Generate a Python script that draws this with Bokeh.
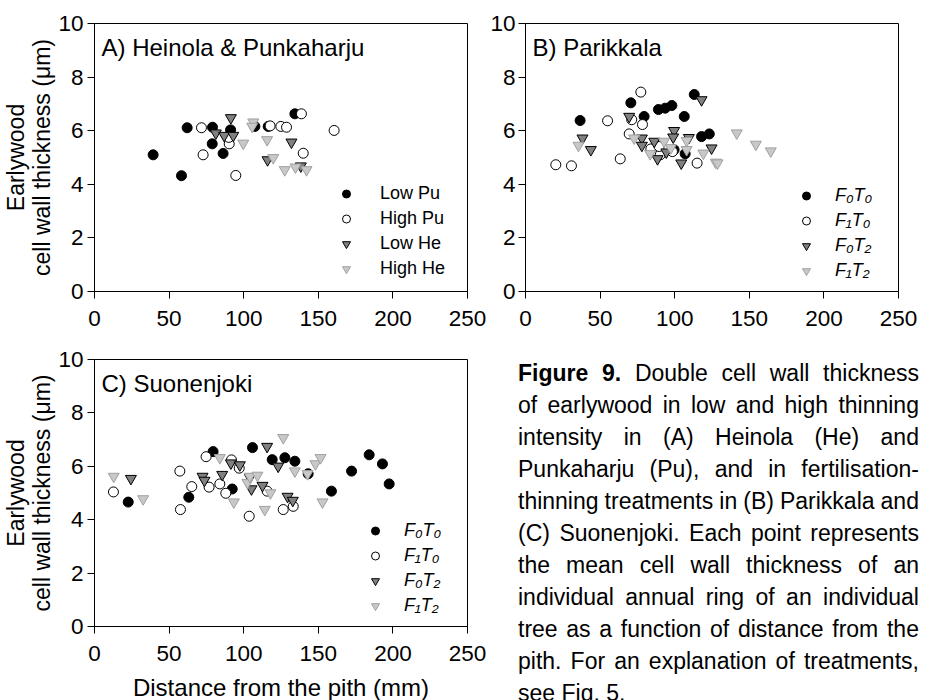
from bokeh.plotting import figure
from bokeh.models import Legend, LegendItem, Label, Div, FixedTicker
from bokeh.layouts import row, column
from bokeh.embed import file_html
from bokeh.resources import INLINE

FONT = "Liberation Sans"

# ---------------- data ----------------
x_ticks = [0, 50, 100, 150, 200, 250]
y_ticks = [0, 2, 4, 6, 8, 10]

# Panel A: Heinola & Punkaharju
a_low_pu_x = [39.3, 58.3, 62.1, 79.1, 78.9, 86.2, 91.2, 107.5, 116.4, 134.3]
a_low_pu_y = [5.10, 4.32, 6.11, 6.13, 5.51, 5.15, 6.03, 6.16, 6.16, 6.63]
a_high_pu_x = [71.7, 72.8, 90.3, 90.0, 94.7, 117.7, 124.9, 128.7, 138.7, 139.9, 160.6]
a_high_pu_y = [6.11, 5.10, 5.51, 5.75, 4.33, 6.18, 6.16, 6.13, 6.63, 5.16, 6.01]
a_low_he_x = [91.4, 81.3, 86.9, 93.0, 116.0, 132.0, 138.3]
a_low_he_y = [6.48, 5.91, 5.82, 5.82, 4.91, 5.57, 4.68]
a_high_he_x = [99.7, 106.4, 105.7, 115.7, 119.8, 127.5, 134.7, 142.1]
a_high_he_y = [5.53, 6.32, 6.16, 5.66, 4.99, 4.54, 4.64, 4.54]
a_labels = ["Low Pu", "High Pu", "Low He", "High He"]

# Panel B: Parikkala
b_f0t0_x = [36.6, 70.6, 79.5, 89.1, 93.6, 98.1, 106.4, 113.1, 118.0, 123.2, 107.0, 99.6]
b_f0t0_y = [6.38, 7.04, 6.53, 6.79, 6.84, 6.94, 6.53, 7.35, 5.78, 5.88, 5.14, 5.29]
b_f1t0_x = [20.3, 30.8, 55.0, 63.5, 77.3, 71.2, 78.4, 69.5, 84.0, 90.3, 89.6, 98.5, 115.0]
b_f1t0_y = [4.73, 4.69, 6.37, 4.95, 7.44, 6.41, 6.23, 5.88, 5.32, 5.10, 5.41, 5.22, 4.79]
b_f0t2_x = [38.2, 43.8, 69.5, 78.0, 78.0, 86.3, 88.5, 94.4, 99.6, 99.0, 104.4, 109.5, 118.0, 124.7]
b_f0t2_y = [5.72, 5.29, 6.53, 5.72, 5.45, 5.60, 4.95, 5.20, 6.00, 5.76, 4.79, 5.74, 7.15, 5.35]
b_f1t2_x = [35.5, 72.8, 83.5, 92.9, 97.4, 108.0, 108.0, 119.2, 127.5, 128.7, 141.6, 154.4, 164.4]
b_f1t2_y = [5.45, 5.72, 5.14, 5.60, 5.36, 5.63, 5.29, 5.16, 4.82, 4.79, 5.91, 5.49, 5.24]

# Panel C: Suonenjoki
c_f0t0_x = [22.6, 63.2, 79.5, 92.3, 105.9, 119.1, 127.6, 134.3, 143.2, 158.8, 172.3, 184.1, 193.0, 197.5]
c_f0t0_y = [4.66, 4.84, 6.55, 5.15, 6.70, 6.25, 6.32, 6.19, 5.72, 5.07, 5.82, 6.43, 6.09, 5.34]
c_f1t0_x = [12.7, 57.6, 57.2, 65.2, 74.8, 76.8, 84.0, 88.0, 91.8, 97.0, 103.7, 115.7, 126.5, 133.2]
c_f1t0_y = [5.04, 4.38, 5.82, 5.24, 6.36, 5.22, 5.34, 4.99, 6.24, 5.93, 4.13, 5.07, 4.38, 4.50]
c_f0t2_x = [24.4, 72.4, 73.7, 85.6, 91.4, 97.4, 104.1, 105.2, 112.6, 115.7, 123.1, 129.4, 132.9]
c_f0t2_y = [5.54, 5.62, 5.47, 5.69, 6.12, 6.05, 5.58, 5.15, 5.28, 6.74, 6.00, 4.87, 4.72]
c_f1t2_x = [12.9, 32.6, 84.0, 93.4, 102.5, 104.1, 109.2, 114.1, 117.9, 126.5, 134.3, 142.8, 148.1, 151.5, 152.8]
c_f1t2_y = [5.62, 4.78, 6.32, 4.66, 5.39, 5.62, 5.66, 4.38, 5.00, 7.07, 5.82, 5.72, 6.09, 6.32, 4.66]
ft_labels = ["F\u2080T\u2080", "F\u2081T\u2080", "F\u2080T\u2082", "F\u2081T\u2082"]

caption_lines = [
    "Double cell wall thickness",
    "of earlywood in low and high thinning",
    "intensity in (A) Heinola (He) and",
    "Punkaharju (Pu), and in fertilisation-",
    "thinning treatments in (B) Parikkala and",
    "(C) Suonenjoki. Each point represents",
    "the mean cell wall thickness of an",
    "individual annual ring of an individual",
    "tree as a function of distance from the",
    "pith. For an explanation of treatments,",
]
caption_last = "see Fig. 5."

# ---------------- styles ----------------
STYLES = [
    dict(marker="circle", size=10, fill_color="black", line_color="black"),
    dict(marker="circle", size=10, fill_color="white", line_color="black"),
    dict(marker="inverted_triangle", size=11, fill_color="#808080", line_color="black"),
    dict(marker="inverted_triangle", size=11, fill_color="#c8c8c8", line_color="#a0a0a0"),
]


def make_panel(title, series, labels, leg, leg_italic, frame_h, borders,
               ylabel=True, xlabel=False, ystand=4):
    bl, br, bt, bb = borders
    lx, ly, lstand = leg
    p = figure(frame_width=373, frame_height=frame_h, x_range=(0, 250), y_range=(0, 10),
               output_backend="svg", toolbar_location=None,
               min_border_left=bl, min_border_right=br, min_border_top=bt, min_border_bottom=bb)
    p.xgrid.visible = False
    p.ygrid.visible = False
    p.outline_line_color = "black"
    p.outline_line_width = 1
    p.background_fill_color = "white"
    p.border_fill_color = "white"
    p.xaxis.ticker = FixedTicker(ticks=x_ticks)
    p.yaxis.ticker = FixedTicker(ticks=y_ticks)
    for ax in (p.xaxis[0], p.yaxis[0]):
        ax.major_tick_out = 7
        ax.major_tick_in = 0
        ax.minor_tick_line_color = None
        ax.axis_line_color = "black"
        ax.major_tick_line_color = "black"
        ax.major_label_text_font = FONT
        ax.major_label_text_font_size = "22.5px"
        ax.major_label_text_color = "black"
        ax.axis_label_text_font = FONT
        ax.axis_label_text_font_size = "24px"
        ax.axis_label_text_font_style = "normal"
        ax.axis_label_text_color = "black"
        ax.axis_label_text_line_height = 1.0
    p.yaxis.axis_label_text_font_size = "23px"
    p.xaxis.major_label_standoff = 12
    p.yaxis.major_label_standoff = ystand
    p.yaxis.axis_label_standoff = 0
    if ylabel:
        p.yaxis.axis_label = "Earlywood\ncell wall thickness (\u03bcm)"
    if xlabel:
        p.xaxis.axis_label = "Distance from the pith (mm)"
        p.xaxis.axis_label_standoff = 10

    renderers = []
    for (xs, ys), st in zip(series, STYLES):
        r = p.scatter(xs, ys, marker=st["marker"], size=st["size"], fill_color=st["fill_color"],
                      line_color=st["line_color"], line_width=1)
        renderers.append(r)

    items = [LegendItem(label=lab, renderers=[r]) for lab, r in zip(labels, renderers)]
    legend = Legend(items=items, location=(lx, ly), border_line_color=None,
                    background_fill_alpha=0, padding=0, margin=0, spacing=0,
                    glyph_width=20, glyph_height=25, label_height=25,
                    label_standoff=lstand,
                    label_text_font=FONT, label_text_font_size="18px",
                    label_text_font_style="italic" if leg_italic else "normal",
                    label_text_color="black")
    p.add_layout(legend)

    p.add_layout(Label(x=4.7, y=9.1, text=title, text_font=FONT, text_font_size="24px",
                       text_baseline="middle", text_color="black"))
    return p


pa = make_panel("A) Heinola & Punkaharju",
                [(a_low_pu_x, a_low_pu_y), (a_high_pu_x, a_high_pu_y),
                 (a_low_he_x, a_low_he_y), (a_high_he_x, a_high_he_y)],
                a_labels, (242, 10, 24), False, 268, (93, 19, 23, 50))
pb = make_panel("B) Parikkala",
                [(b_f0t0_x, b_f0t0_y), (b_f1t0_x, b_f1t0_y),
                 (b_f0t2_x, b_f0t2_y), (b_f1t2_x, b_f1t2_y)],
                ft_labels, (271, 8, 19), True, 268, (39, 22, 23, 50), ylabel=False, ystand=3)
pc = make_panel("C) Suonenjoki",
                [(c_f0t0_x, c_f0t0_y), (c_f1t0_x, c_f1t0_y),
                 (c_f0t2_x, c_f0t2_y), (c_f1t2_x, c_f1t2_y)],
                ft_labels, (271, 8, 19), True, 267, (93, 19, 18, 70), xlabel=True)

rows_html = []
for i, line in enumerate(caption_lines):
    words = line.split(" ")
    if i == 0:
        spans = ["<b>Figure</b>", "<b>9.</b>"] + words
    else:
        spans = words
    inner = "".join(f"<span>{w}</span>" for w in spans)
    rows_html.append(
        f'<div style="display:flex;justify-content:space-between;align-items:center;'
        f'height:32px;white-space:nowrap;">{inner}</div>')
rows_html.append(f'<div style="height:32px;line-height:32px;white-space:nowrap;">{caption_last}</div>')
html = (f'<div style="box-sizing:border-box;font-family:\'{FONT}\';font-size:23px;color:black;'
        f'width:433px;padding-left:32px;padding-top:16px;">' + "".join(rows_html) + "</div>")
cap = Div(text=html, width=433, height=355, margin=(0, 0, 0, 0))

layout = column(row(pa, pb), row(pc, cap))

open("out.html", "w").write(file_html(layout, INLINE))
